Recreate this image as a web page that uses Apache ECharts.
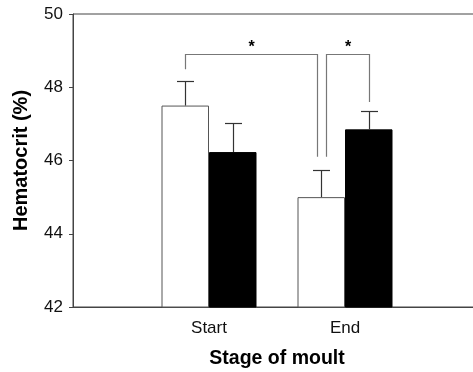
<!DOCTYPE html>
<html>
<head>
<meta charset="utf-8">
<script src="https://cdn.jsdelivr.net/npm/echarts@6/dist/echarts.min.js"></script>
<style>
  html, body { margin: 0; padding: 0; background: #fff; }
  #chart { width: 473px; height: 372px; }
</style>
</head>
<body>
<div id="chart"></div>
<script>
// Stage categories; the empty slots pad the axis so the two groups sit at 1/3 and 2/3.
const categories = ['', 'Start', 'End', ''];
// Hematocrit means (%) and standard errors for the two groups.
const whiteMeans = [null, 47.5, 45.0, null];
const whiteErrors = [null, 0.68, 0.73, null];
const blackMeans = [null, 46.23, 46.85, null];
const blackErrors = [null, 0.79, 0.49, null];
const yTicks = [42, 44, 46, 48, 50];
// Significance brackets: [fromCategory, fromSide, fromY, toCategory, toSide, toY, topY, label]
// side: -1 = white bar, +1 = black bar
const brackets = [
  [1, -1, 48.49, 2, -1, 46.1, 48.91, '*'],
  [2, -1, 46.1, 2, 1, 47.6, 48.91, '*']
];

const FONT = 'Arial, "Liberation Sans", Helvetica, sans-serif';
const BAR_W = 47.5;
const CAP_W = 17;
const END_GAP = 4.5;

const errorData = [];
for (let i = 0; i < categories.length; i++) {
  if (whiteMeans[i] != null) errorData.push([i, whiteMeans[i], whiteErrors[i], -1]);
  if (blackMeans[i] != null) errorData.push([i, blackMeans[i], blackErrors[i], 1]);
}

const chart = echarts.init(document.getElementById('chart'), null, { renderer: 'canvas' });

// Two brackets sharing a bar end are pushed apart slightly.
function endNudge(idx, which) {
  const b = brackets[idx];
  const cat = which === 'from' ? b[0] : b[3];
  const side = which === 'from' ? b[1] : b[4];
  let shared = false;
  brackets.forEach((o, j) => {
    if (j === idx) return;
    if ((o[0] === cat && o[1] === side) || (o[3] === cat && o[4] === side)) shared = true;
  });
  if (!shared) return 0;
  return which === 'from' ? END_GAP : -END_GAP;
}

chart.setOption({
  backgroundColor: '#ffffff',
  animation: false,
  grid: {
    left: 73, top: 14, right: -8, bottom: 65,
    containLabel: false,
    outerBoundsMode: 'none',
    show: true, borderColor: '#444', borderWidth: 1, backgroundColor: 'transparent'
  },
  xAxis: {
    type: 'category',
    data: categories,
    boundaryGap: false,
    name: 'Stage of moult',
    nameLocation: 'middle',
    nameGap: 42,
    nameTextStyle: { fontFamily: FONT, fontSize: 19.5, fontWeight: 'bold', color: '#000' },
    axisLine: { show: true, lineStyle: { color: '#444', width: 1 } },
    axisTick: { show: false },
    axisLabel: { fontFamily: FONT, fontSize: 17, color: '#111', margin: 13, interval: 0 },
    splitLine: { show: false }
  },
  yAxis: {
    type: 'value',
    min: yTicks[0],
    max: yTicks[yTicks.length - 1],
    interval: yTicks[1] - yTicks[0],
    name: 'Hematocrit (%)',
    nameLocation: 'middle',
    nameGap: 42,
    nameTextStyle: { fontFamily: FONT, fontSize: 20, fontWeight: 'bold', color: '#000' },
    axisLine: { show: true, lineStyle: { color: '#444', width: 1 } },
    axisTick: { show: true, inside: false, length: 4, lineStyle: { color: '#444' } },
    axisLabel: { fontFamily: FONT, fontSize: 17, color: '#111', margin: 10 },
    splitLine: { show: false }
  },
  series: [
    {
      type: 'bar',
      data: whiteMeans,
      barWidth: BAR_W,
      barGap: '0%',
      itemStyle: { color: '#ffffff', borderColor: '#555', borderWidth: 1 },
      z: 2
    },
    {
      type: 'bar',
      data: blackMeans,
      barWidth: BAR_W,
      barGap: '0%',
      itemStyle: { color: '#000000', borderColor: '#000', borderWidth: 1 },
      z: 2
    },
    {
      type: 'custom',
      data: errorData,
      z: 3,
      renderItem: function (params, api) {
        const cat = api.value(0), mean = api.value(1), err = api.value(2), side = api.value(3);
        const base = api.coord([cat, mean]);
        const top = api.coord([cat, mean + err]);
        const x = Math.round(base[0] + side * BAR_W / 2) + 0.5;
        const yt = Math.round(top[1]) + 0.5;
        const style = { stroke: '#333', lineWidth: 1.2 };
        return {
          type: 'group',
          children: [
            { type: 'line', shape: { x1: x, y1: base[1], x2: x, y2: yt }, style: style },
            { type: 'line', shape: { x1: x - CAP_W / 2, y1: yt, x2: x + CAP_W / 2, y2: yt }, style: style }
          ]
        };
      }
    },
    {
      type: 'custom',
      data: brackets.map((b, i) => [i]),
      z: 4,
      renderItem: function (params, api) {
        const i = api.value(0);
        const b = brackets[i];
        const p1 = api.coord([b[0], b[2]]);
        const p2 = api.coord([b[3], b[5]]);
        const pt = api.coord([b[0], b[6]]);
        const x1 = Math.round(p1[0] + b[1] * BAR_W / 2 + endNudge(i, 'from')) + 0.5;
        const x2 = Math.round(p2[0] + b[4] * BAR_W / 2 + endNudge(i, 'to')) + 0.5;
        const yTop = Math.round(pt[1]) + 0.5;
        return {
          type: 'group',
          children: [
            {
              type: 'polyline',
              shape: { points: [[x1, p1[1]], [x1, yTop], [x2, yTop], [x2, p2[1]]] },
              style: { stroke: '#777', lineWidth: 1.2, fill: null }
            },
            {
              type: 'text',
              x: (x1 + x2) / 2,
              y: yTop + 1,
              style: {
                text: b[7], fontFamily: FONT, fontSize: 16, fontWeight: 'bold',
                fill: '#000', align: 'center', verticalAlign: 'bottom'
              }
            }
          ]
        };
      }
    }
  ]
});
</script>
</body>
</html>
